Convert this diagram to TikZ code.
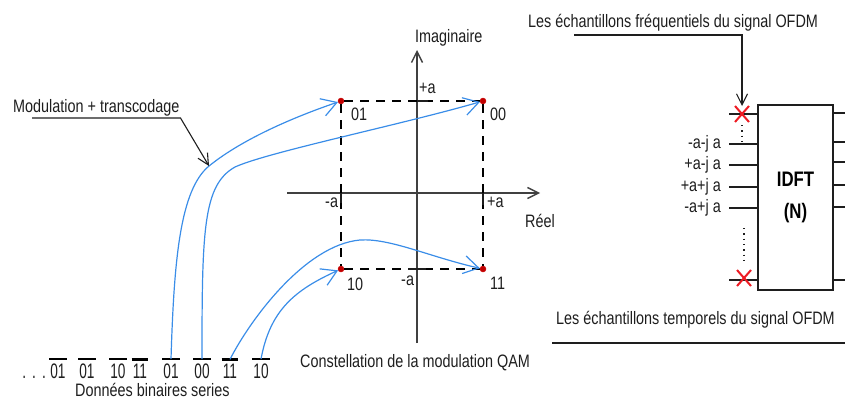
\documentclass[tikz,border=0pt]{standalone}
\usepackage{fontspec}
\setmainfont{Liberation Sans}[FakeStretch=0.8]
\newfontfamily\bitfont{Liberation Sans}[FakeStretch=0.65]
\usetikzlibrary{arrows.meta, shapes.misc}
\definecolor{CurveBlue}{HTML}{3A8DE8}
\definecolor{DotRed}{HTML}{C00000}
\definecolor{CrossRed}{HTML}{EE1C24}
\definecolor{InkGray}{HTML}{1E1E1E}
\tikzset{
  lbl/.style={inner sep=1pt, text=InkGray, font=\fontsize{18}{21}\selectfont},
  bitlbl/.style={inner sep=1pt, text=InkGray, font=\bitfont\fontsize{21}{24}\selectfont},
  bitbar/.style={line width=2.6pt, draw=black},
  qampoint/.style={circle, fill=DotRed, draw=red!80!black, minimum size=6pt, inner sep=0pt},
  axis/.style={-{Straight Barb[length=11pt, width=11pt]}, line width=1.4pt, draw=InkGray!85},
  tick/.style={line width=1.2pt, draw=InkGray},
  gridline/.style={draw=black, line width=1.1pt, dash pattern=on 9pt off 7pt},
  blueline/.style={-{Straight Barb[length=15pt, width=18pt]}, line width=1.2pt, draw=CurveBlue},
  leader/.style={-{Straight Barb[length=11pt, width=11pt]}, line width=1.1pt, draw=InkGray},
  redcross/.style={cross out, draw=CrossRed, line width=2pt, minimum width=12pt, minimum height=14pt, inner sep=0pt},
  dftbox/.style={draw=InkGray, line width=1.5pt, minimum width=75pt, minimum height=185pt, inner sep=0pt, align=center, font=\fontsize{21}{32}\selectfont\bfseries},
  wire/.style={draw=InkGray, line width=1.3pt},
  dotline/.style={draw=InkGray, line width=1.3pt, dash pattern=on 1.3pt off 4pt}
}

\begin{document}
\begin{tikzpicture}[x=1pt, y=-1pt]
\useasboundingbox (0,0) rectangle (845,399);

\coordinate (xstart) at (287,193);
\coordinate (xend) at (540,193);
\coordinate (ystart) at (417,343);
\coordinate (yend) at (417,50);
\draw[axis] (xstart) -- (xend);
\draw[axis] (ystart) -- (yend);

\node[qampoint] (p01) at (341,101) {};
\node[qampoint] (p00) at (483,101) {};
\node[qampoint] (p10) at (341,269) {};
\node[qampoint] (p11) at (483,269) {};
\draw[gridline] (p01) -- (p00);
\draw[gridline] (p10) -- (p11);
\draw[gridline] (p01) -- (p10);
\draw[gridline] (p00) -- (p11);
\draw[tick] (341,193) -- (341,203);
\draw[tick] (483,193) -- (483,205);
\draw[tick] (417,101) -- (428,101);
\draw[tick] (408,269) -- (426,269);

\node[lbl, anchor=base west] (imag) at (414,42) {Imaginaire};
\node[lbl, anchor=base west] (reel) at (524,227) {Réel};
\node[lbl, anchor=base west] (plusa) at (418,93) {+a};
\node[lbl, anchor=base west] (minusa) at (400,285) {-a};
\node[lbl, anchor=base west] (leftma) at (324,207) {-a};
\node[lbl, anchor=base west] (rightpa) at (486,207) {+a};
\node[lbl, anchor=base west] (l01) at (350,120) {01};
\node[lbl, anchor=base west] (l00) at (489,120) {00};
\node[lbl, anchor=base west] (l10) at (346,290) {10};
\node[lbl, anchor=base west] (l11) at (489,289) {11};
\node[lbl, anchor=base west] (qam) at (299,367) {Constellation de la modulation QAM};

\foreach \bx/\bv [count=\i] in {58/01, 87/01, 118/10, 140/11, 171/01, 202/00, 230/11, 261/10}{
  \node[bitlbl, anchor=base] (b\i) at (\bx,378) {\bv};
  \draw[bitbar] ([yshift=3pt]b\i.north west) -- ([yshift=3pt]b\i.north east);
}
\node[bitlbl, anchor=base east] (dots) at (47,378) {.\hspace{6pt}.\hspace{6pt}.};
\node[lbl, anchor=base west] (donnees) at (74,396) {Données binaires series};

\coordinate (modtip) at (209,166);
\draw[blueline] ([yshift=3pt]b5.north) .. controls (174,260) and (180,190) .. (modtip) .. controls (245,137) and (300,115) .. (p01);
\draw[blueline] ([yshift=3pt]b6.north) .. controls (202,230) and (203,185) .. (235,167) .. controls (268,152) and (400,125) .. (p00);
\draw[blueline] ([yshift=3pt]b7.north) .. controls (250,320) and (305,245) .. (360,240) .. controls (390,238) and (430,257) .. (p11);
\draw[blueline] ([yshift=3pt]b8.north) .. controls (270,310) and (295,290) .. (p10);

\node[lbl, anchor=base west] (modlbl) at (12,112) {Modulation + transcodage};
\draw[leader] ([shift={(20,6)}]modlbl.base west) -- ([shift={(0,6)}]modlbl.base east) -- (modtip);

\node[dftbox] (idft) at (795.5,197.5) {IDFT\\(N)};
\foreach \y [count=\k] in {114,144,165,187,208,280}{
  \coordinate (in\k) at (729,\y);
  \draw[wire] (in\k) -- (in\k -| idft.west);
}
\foreach \y [count=\k] in {113,142,162,185,207,280}{
  \coordinate (out\k) at (845,\y);
  \draw[wire] (out\k -| idft.east) -- (out\k);
}
\foreach \k/\txt in {2/-a-j a, 3/+a-j a, 4/+a+j a, 5/-a+j a}{
  \node[lbl, anchor=east] (lab\k) at ([xshift=-7pt]in\k) {\txt};
}
\node[redcross] (xtop) at (742,114) {};
\node[redcross] (xbot) at (744,278) {};
\draw[dotline] ([yshift=-3pt]xtop.south) -- ([yshift=3pt]xtop.south |- in2);
\draw[dotline] ([yshift=-20pt]in5 -| xbot) -- ([yshift=6pt]xbot.north);

\node[lbl, anchor=base west] (freq) at (527,27) {Les échantillons fréquentiels du signal OFDM};
\draw[leader] ([shift={(47,8)}]freq.base west) -| (xtop.north);

\node[lbl, anchor=base west] (tempo) at (555,324) {Les échantillons temporels du signal OFDM};
\coordinate (tempoend) at (845,343);
\draw[wire] ([shift={(-3,19)}]tempo.base west) -- (tempoend);
\end{tikzpicture}
\end{document}
